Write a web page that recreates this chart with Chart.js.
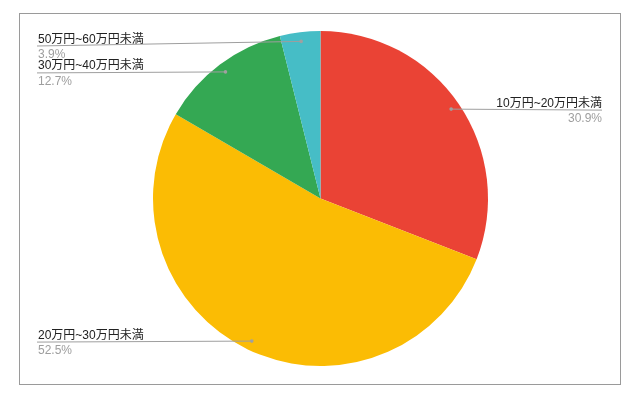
<!DOCTYPE html>
<html lang="ja">
<head>
  <meta charset="UTF-8" />
  <title>価格帯の割合</title>
  <script src="https://cdn.jsdelivr.net/npm/chart.js@4.4.0/dist/chart.umd.min.js"></script>
  <style>
    body { margin: 0; background: #fff; }
    canvas { display: block; }
  </style>
</head>
<body>
  <canvas id="pieChart" width="641" height="403"></canvas>

  <script>
    const categories = ['10万円~20万円未満', '20万円~30万円未満', '30万円~40万円未満', '50万円~60万円未満'];
    const shares = [30.9, 52.5, 12.7, 3.9];
    const sliceColors = ['#EA4335', '#FBBC04', '#34A853', '#46BDC6'];

    const FONT = 'Arial, "Liberation Sans", "Noto Sans CJK JP", sans-serif';

    // frame around the chart + leader-line labels (google charts look)
    const frameAndLabels = {
      id: 'frameAndLabels',
      beforeDraw(chart) {
        const c = chart.ctx;
        c.save();
        c.strokeStyle = '#9a9a9a';
        c.lineWidth = 1;
        c.strokeRect(19.5, 13.5, 601, 371);
        c.restore();
      },
      afterDraw(chart) {
        const c = chart.ctx;
        const arcs = chart.getDatasetMeta(0).data;
        c.save();
        arcs.forEach((arc, i) => {
          const mid = (arc.startAngle + arc.endAngle) / 2;
          const r = arc.outerRadius * 0.945;
          const dx = arc.x + Math.cos(mid) * r;
          const dy = arc.y + Math.sin(mid) * r;
          const lineY = Math.max(dy + 1, 46);
          const right = dx > arc.x;
          const endX = right ? 602 : 37;

          c.strokeStyle = '#9e9e9e';
          c.lineWidth = 1;
          c.beginPath();
          c.moveTo(dx, dy);
          c.lineTo(endX, lineY);
          c.stroke();

          c.fillStyle = '#a0a0a0';
          c.beginPath();
          c.arc(dx, dy, 1.8, 0, Math.PI * 2);
          c.fill();

          c.font = '12px ' + FONT;
          c.textAlign = right ? 'right' : 'left';
          c.textBaseline = 'alphabetic';
          const tx = right ? 602 : 38;
          c.fillStyle = '#222222';
          c.fillText(categories[i], tx, lineY - 3.5);
          c.fillStyle = '#9e9e9e';
          c.fillText(shares[i].toFixed(1) + '%', tx, lineY + 12);
        });
        c.restore();
      }
    };

    new Chart(document.getElementById('pieChart'), {
      type: 'pie',
      data: {
        labels: categories,
        datasets: [{
          data: shares,
          backgroundColor: sliceColors,
          borderWidth: 0
        }]
      },
      options: {
        responsive: false,
        animation: false,
        layout: { padding: { top: 31, bottom: 37, left: 0, right: 0 } },
        plugins: {
          legend: { display: false },
          tooltip: { enabled: false }
        }
      },
      plugins: [frameAndLabels]
    });
  </script>
</body>
</html>
